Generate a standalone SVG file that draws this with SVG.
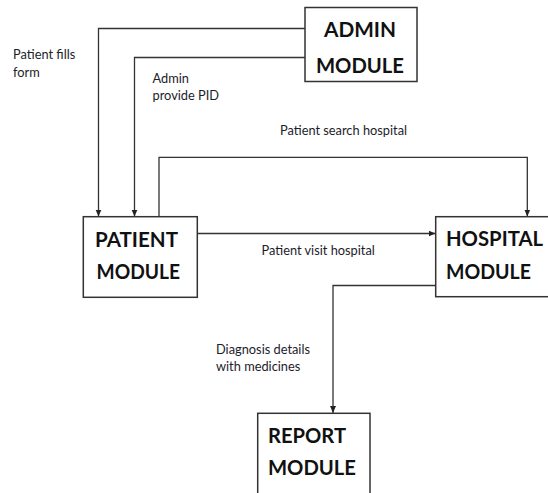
<svg xmlns="http://www.w3.org/2000/svg" width="548" height="493" viewBox="0 0 548 493">
<style>
.box{fill:#fff;stroke:#333;stroke-width:1.5}
.title{font-family:Lato,"Liberation Sans",sans-serif;font-weight:bold;font-size:21px;fill:#111}
.lbl{font-family:Lato,"Liberation Sans",sans-serif;font-size:12.8px;fill:#1c1c2a}
.edge{fill:none;stroke:#333;stroke-width:1.3}
</style>
<defs>
<marker id="ah" markerWidth="8" markerHeight="8" refX="7" refY="4" orient="auto" markerUnits="userSpaceOnUse">
<path d="M0,1 L7,4 L0,7 Z" fill="#222"/>
</marker>
</defs>
<rect width="548" height="493" fill="#fff"/>
<g id="connectors">
<path class="edge" d="M305,28.5 H98.5 V216.5" marker-end="url(#ah)"/>
<path class="edge" d="M305,57.5 H134.5 V216.5" marker-end="url(#ah)"/>
<path class="edge" d="M159,216.5 V157.3 H527.3 V216.5" marker-end="url(#ah)"/>
<path class="edge" d="M197.3,233.5 H435.5" marker-end="url(#ah)"/>
<path class="edge" d="M436,285.5 H333 V413" marker-end="url(#ah)"/>
</g>
<g id="edge-labels">
<text class="lbl" x="13" y="59">Patient fills</text>
<text class="lbl" x="13" y="76.5">form</text>
<text class="lbl" x="152.5" y="83">Admin</text>
<text class="lbl" x="152.5" y="99.5">provide PID</text>
<text class="lbl" x="280" y="135">Patient search hospital</text>
<text class="lbl" x="261.5" y="255">Patient visit hospital</text>
<text class="lbl" x="216" y="353.5">Diagnosis details</text>
<text class="lbl" x="216" y="370.5">with medicines</text>
</g>
<g id="admin">
<rect class="box" x="305" y="7.5" width="112" height="74"/>
<text class="title" x="324" y="36.7" textLength="72" lengthAdjust="spacingAndGlyphs">ADMIN</text>
<text class="title" x="316" y="72.5" textLength="88" lengthAdjust="spacingAndGlyphs">MODULE</text>
</g>
<g id="patient">
<rect class="box" x="83.3" y="216.7" width="114" height="80.6"/>
<text class="title" x="95" y="246.7" textLength="83" lengthAdjust="spacingAndGlyphs">PATIENT</text>
<text class="title" x="96.5" y="278.5" textLength="83.5" lengthAdjust="spacingAndGlyphs">MODULE</text>
</g>
<g id="hospital">
<rect class="box" x="435.7" y="216.7" width="130" height="80"/>
<text class="title" x="446" y="245.5" textLength="97" lengthAdjust="spacingAndGlyphs">HOSPITAL</text>
<text class="title" x="446" y="278.5" textLength="85" lengthAdjust="spacingAndGlyphs">MODULE</text>
</g>
<g id="report">
<rect class="box" x="257.7" y="413.3" width="112.3" height="100"/>
<text class="title" x="268" y="442.7" textLength="78" lengthAdjust="spacingAndGlyphs">REPORT</text>
<text class="title" x="268" y="475" textLength="88" lengthAdjust="spacingAndGlyphs">MODULE</text>
</g>
</svg>
